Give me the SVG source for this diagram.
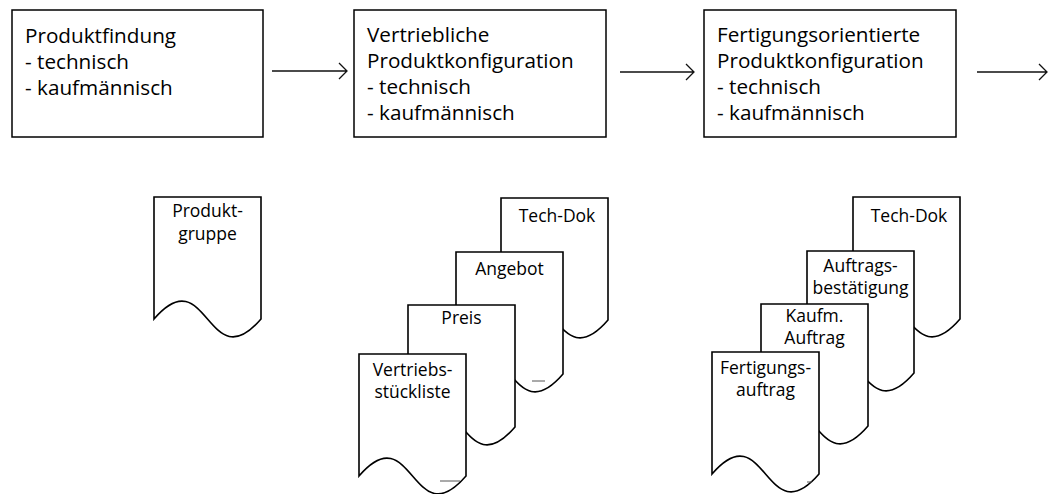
<svg xmlns="http://www.w3.org/2000/svg" width="1049" height="494" viewBox="0 0 1049 494">
<style>
.box{fill:#fff;stroke:#000;stroke-width:1.5}
.doc{fill:#fff;stroke:#000;stroke-width:1.6}
.bt{font-family:"Open Sans","Noto Sans",sans-serif;font-size:20.7px;fill:#000}
.dt{font-family:"Open Sans","Noto Sans",sans-serif;font-size:17.5px;fill:#000;text-anchor:middle}
.conn{stroke:#111;stroke-width:1.3;fill:none}
.art{stroke:#555;stroke-width:1}
</style>
<defs>
<path id="docshape" d="M0,0 H107 V122 C53.5,184 53.5,60 0,122 Z"/>
</defs>
<g id="connectors">
<path class="conn" d="M272,71 H347 M339,63 L347,71 L339,79"/>
<path class="conn" d="M620,72 H694 M686,64 L694,72 L686,80"/>
<path class="conn" d="M977,72 H1047 M1039,64 L1047,72 L1039,80"/>
</g>
<g id="box-produktfindung">
<rect class="box" x="12" y="10" width="251" height="127"/>
<text class="bt" x="25" y="43">Produktfindung</text>
<text class="bt" x="25" y="69">- technisch</text>
<text class="bt" x="25" y="95">- kaufmännisch</text>
</g>
<g id="box-vertriebliche">
<rect class="box" x="354" y="10" width="252" height="127"/>
<text class="bt" x="367" y="42">Vertriebliche</text>
<text class="bt" x="367" y="68">Produktkonfiguration</text>
<text class="bt" x="367" y="94">- technisch</text>
<text class="bt" x="367" y="120">- kaufmännisch</text>
</g>
<g id="box-fertigungsorientierte">
<rect class="box" x="704" y="10" width="252" height="127"/>
<text class="bt" x="717" y="42">Fertigungsorientierte</text>
<text class="bt" x="717" y="68">Produktkonfiguration</text>
<text class="bt" x="717" y="94">- technisch</text>
<text class="bt" x="717" y="120">- kaufmännisch</text>
</g>
<g id="doc-produktgruppe" transform="translate(154,197)">
<use href="#docshape" class="doc"/>
<text class="dt" x="53.5" y="20">Produkt-</text>
<text class="dt" x="53.5" y="43">gruppe</text>
</g>
<g id="doc-techdok-1" transform="translate(501,198)">
<use href="#docshape" class="doc"/>
<text class="dt" x="56" y="24">Tech-Dok</text>
</g>
<g id="doc-angebot" transform="translate(456,252)">
<use href="#docshape" class="doc"/>
<line class="art" x1="76" y1="129" x2="89" y2="129"/>
<text class="dt" x="53.5" y="23">Angebot</text>
</g>
<g id="doc-preis" transform="translate(408,305)">
<use href="#docshape" class="doc"/>
<text class="dt" x="53.5" y="19">Preis</text>
</g>
<g id="doc-vertriebsstueckliste" transform="translate(359,354)">
<use href="#docshape" class="doc"/>
<line class="art" x1="81" y1="127" x2="101" y2="127"/>
<text class="dt" x="53.5" y="22">Vertriebs-</text>
<text class="dt" x="53.5" y="44">stückliste</text>
</g>
<g id="doc-techdok-2" transform="translate(853,197)">
<use href="#docshape" class="doc"/>
<text class="dt" x="56" y="25">Tech-Dok</text>
</g>
<g id="doc-auftragsbestaetigung" transform="translate(807,251)">
<use href="#docshape" class="doc"/>
<text class="dt" x="53.5" y="21">Auftrags-</text>
<text class="dt" x="53.5" y="43">bestätigung</text>
</g>
<g id="doc-kaufm-auftrag" transform="translate(761,304)">
<use href="#docshape" class="doc"/>
<text class="dt" x="53.5" y="18">Kaufm.</text>
<text class="dt" x="53.5" y="40">Auftrag</text>
</g>
<g id="doc-fertigungsauftrag" transform="translate(712,352)">
<use href="#docshape" class="doc"/>
<line class="art" x1="95" y1="130" x2="100" y2="130"/>
<text class="dt" x="53.5" y="22">Fertigungs-</text>
<text class="dt" x="53.5" y="44">auftrag</text>
</g>
</svg>
